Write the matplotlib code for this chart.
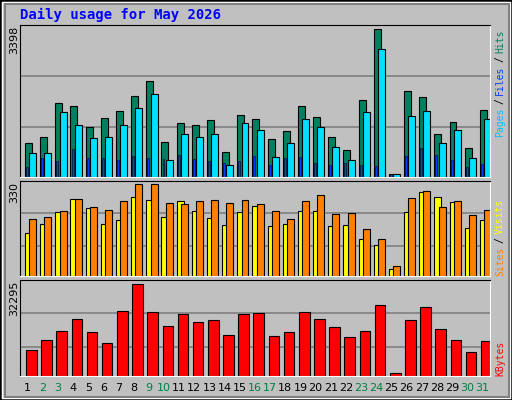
import matplotlib
matplotlib.use('Agg')
import matplotlib.pyplot as plt
from matplotlib.patches import Rectangle
import numpy as np

# daily values
days = list(range(1, 32))
weekend = [2, 3, 9, 10, 16, 17, 23, 24, 30, 31]
hits = [781, 918, 1699, 1630, 1148, 1355, 1515, 1860, 2204, 804, 1240, 1194, 1309, 574, 1424, 1332,
        873, 1056, 1630, 1378, 918, 620, 1768, 3398, 69, 1975, 1837, 987, 1263, 666, 1538]
pages = [551, 551, 1492, 1194, 895, 918, 1194, 1584, 1906, 390, 987, 918, 987, 276, 1240, 1079,
         459, 781, 1332, 1148, 689, 390, 1492, 2939, 69, 1401, 1515, 781, 1079, 436, 1332]
files = [230, 436, 367, 643, 436, 436, 390, 482, 436, 413, 505, 413, 367, 321, 367, 482,
         276, 436, 459, 321, 276, 321, 276, 253, 69, 482, 666, 505, 390, 230, 298]
visits = [154, 187, 230, 276, 244, 187, 201, 283, 273, 212, 269, 233, 208, 183, 230, 251,
          179, 187, 233, 233, 179, 183, 133, 111, 25, 230, 301, 283, 265, 172, 201]
sites = [204, 212, 233, 276, 248, 237, 269, 330, 330, 262, 258, 269, 273, 262, 273, 258,
         233, 204, 269, 291, 222, 226, 169, 133, 36, 280, 305, 248, 269, 219, 237]
kbytes = [9312, 12850, 16030, 19920, 15680, 11790, 22750, 32295, 22400, 17450, 21690, 18860,
          19570, 14620, 21690, 22040, 14260, 15680, 22400, 19920, 17090, 13910, 16030, 24870,
          1179, 19570, 24170, 16390, 12850, 8605, 12500]

BG = '#C0C0C0'
fig = plt.figure(figsize=(5.12, 4.0), dpi=100, facecolor=BG)
W, H = 512, 400

def px_axes(x0, y0, x1, y1):
    return fig.add_axes([x0 / W, 1 - y1 / H, (x1 - x0) / W, (y1 - y0) / H])

# outer frame with bevel
fig.patches.append(Rectangle((0, 0), 1, 1, transform=fig.transFigure, fill=False, ec='black', lw=2))
fig.patches.append(Rectangle((2 / W, 2 / H), 1 - 4 / W, 1 - 4 / H, transform=fig.transFigure,
                             fill=False, ec='white', lw=1))
fig.patches.append(Rectangle((5 / W, 3 / H), 1 - 8 / W, 1 - 7 / H, transform=fig.transFigure,
                             fill=False, ec='#808080', lw=1.5))

x = np.arange(31)

def style(ax, ymax, grids):
    ax.set_facecolor(BG)
    ax.set_xlim(0, 31)
    ax.set_ylim(0, ymax)
    ax.set_xticks([])
    ax.set_yticks([])
    for g in grids:
        ax.axhline(g, color='#808080', lw=1.2, zorder=0)
    for s in ['top', 'left']:
        ax.spines[s].set_color('black')
    for s in ['bottom', 'right']:
        ax.spines[s].set_color('white')

# top panel: hits / pages / files
ax1 = px_axes(20, 25, 490, 177)
style(ax1, 3490, [1141, 2312])
ax1.bar(x + 0.33, hits, 0.46, align='edge', color='#008060', ec='black', lw=0.8)
ax1.bar(x + 0.61, pages, 0.46, align='edge', color='#00E0FF', ec='black', lw=0.8)
ax1.bar(x + 0.40, files, 0.13, align='edge', color='#0040FF', ec='black', lw=0.4)

# middle panel: visits / sites
ax2 = px_axes(20, 181, 490, 276)
style(ax2, 342, [108, 226])
ax2.bar(x + 0.33, visits, 0.46, align='edge', color='#FFFF00', ec='black', lw=0.8)
ax2.bar(x + 0.61, sites, 0.46, align='edge', color='#FF8000', ec='black', lw=0.8)

# bottom panel: kbytes
ax3 = px_axes(20, 280, 490, 376)
style(ax3, 33827, [10375, 22040])
ax3.bar(x + 0.40, kbytes, 0.70, align='edge', color='#FF0000', ec='black', lw=0.8)

for d in days:
    ax3.text(d - 0.5, -0.12, str(d), transform=ax3.get_xaxis_transform(), ha='center', va='center',
             fontsize=8, color='#008040' if d in weekend else 'black')

fig.text(20 / W, 1 - 15 / H, 'Daily usage for May 2026', color='#0000FF', fontsize=10,
         fontweight='bold', family='DejaVu Sans Mono', va='center')
fig.text(14 / W, 1 - 40 / H, '3398', rotation=90, fontsize=8, ha='center', va='center')
fig.text(14 / W, 1 - 193 / H, '330', rotation=90, fontsize=8, ha='center', va='center')
fig.text(14 / W, 1 - 298 / H, '32295', rotation=90, fontsize=8, ha='center', va='center')

def vlabel(y_bottom, parts):
    y = y_bottom
    for i, (txt, col) in enumerate(parts):
        if i > 0:
            y -= 3
            fig.text(500 / W, 1 - y / H, '/', rotation=90, fontsize=7, color='black',
                     family='DejaVu Sans Mono', ha='center', va='bottom')
            y -= 9
        fig.text(500 / W, 1 - y / H, txt, rotation=90, fontsize=7, color=col,
                 family='DejaVu Sans Mono', ha='center', va='bottom')
        y -= len(txt) * 6.0

vlabel(137, [('Pages', '#00C0FF'), ('Files', '#0040FF'), ('Hits', '#008060')])
vlabel(276, [('Sites', '#FF8000'), ('Visits', '#FFFF00')])
vlabel(376, [('KBytes', '#FF0000')])

fig.savefig('out.png', dpi=100, facecolor=BG)
